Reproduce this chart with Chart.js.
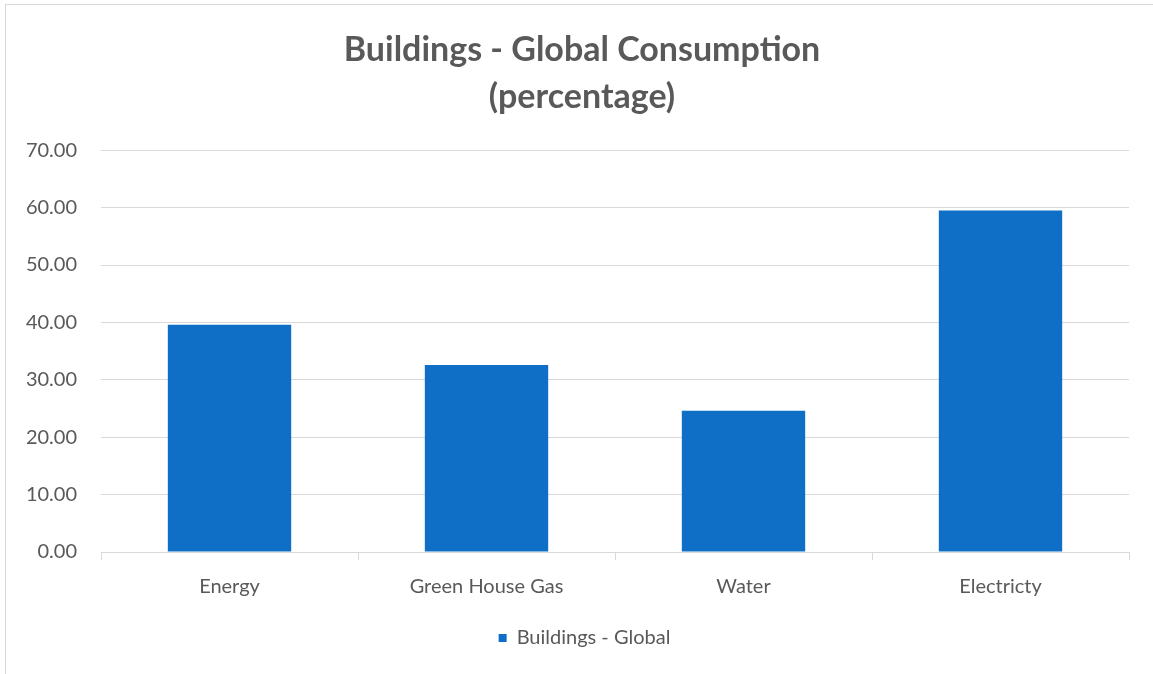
<!DOCTYPE html>
<html>
<head>
<meta charset="utf-8">
<script src="https://cdn.jsdelivr.net/npm/chart.js@4"></script>
<style>
html,body{margin:0;padding:0;background:#fff;}
#wrap{position:absolute;left:0;top:0;width:1153px;height:674px;}
#frame{position:absolute;left:5px;top:4px;width:1160px;height:680px;border:1px solid #d9d9d9;box-sizing:border-box;}
</style>
</head>
<body>
<div id="frame"></div>
<div id="wrap"><canvas id="c" width="1153" height="674"></canvas></div>
<script>
const categories = ["Energy", "Green House Gas", "Water", "Electricty"];
const seriesName = "Buildings - Global";
const values = [39.6, 32.6, 24.6, 59.5];
const titleLines = ["Buildings - Global Consumption", "(percentage)"];
const yMin = 0, yMax = 70, yStep = 10;

const FONT = "Lato, 'Open Sans', sans-serif";
const GRAY = "#595959";

const recenter = {
  id: 'recenter',
  afterLayout(chart) {
    if (chart.titleBlock) { chart.titleBlock.left = 35; }
    if (chart.legend) { chart.legend.left = 40; }
  }
};

new Chart(document.getElementById('c'), {
  type: 'bar',
  data: {
    labels: categories,
    datasets: [{
      label: seriesName,
      data: values,
      backgroundColor: '#0f6fc6',
      borderWidth: 0,
      categoryPercentage: 0.96,
      barPercentage: 0.5
    }]
  },
  plugins: [recenter],
  options: {
    responsive: false,
    animation: false,
    devicePixelRatio: 1,
    layout: { padding: { left: 8, right: 24, top: 26, bottom: 16 } },
    plugins: {
      title: {
        display: true,
        text: titleLines,
        color: GRAY,
        font: { family: FONT, size: 34, weight: 'bold', lineHeight: 1.4 },
        padding: { top: 0, bottom: 29 }
      },
      legend: {
        position: 'bottom',
        labels: {
          color: GRAY,
          font: { family: FONT, size: 20 },
          boxWidth: 8,
          boxHeight: 8,
          padding: 10
        }
      },
      tooltip: { enabled: false }
    },
    scales: {
      x: {
        afterFit: function(scale){ scale.height += 4; },
        grid: {
          display: true,
          drawOnChartArea: false,
          drawTicks: true,
          tickLength: 8,
          color: '#d9d9d9',
          offset: true
        },
        border: { display: true, color: '#d9d9d9', width: 1 },
        ticks: { color: GRAY, font: { family: FONT, size: 20 }, padding: 15 }
      },
      y: {
        min: yMin,
        max: yMax,
        afterFit: function(scale){ scale.width = 93; },
        ticks: {
          stepSize: yStep,
          color: GRAY,
          font: { family: FONT, size: 20 },
          padding: 24,
          callback: function(v){ return Number(v).toFixed(2); }
        },
        grid: { color: '#d9d9d9', drawTicks: false, lineWidth: 1 },
        border: { display: false }
      }
    }
  }
});
</script>
</body>
</html>
